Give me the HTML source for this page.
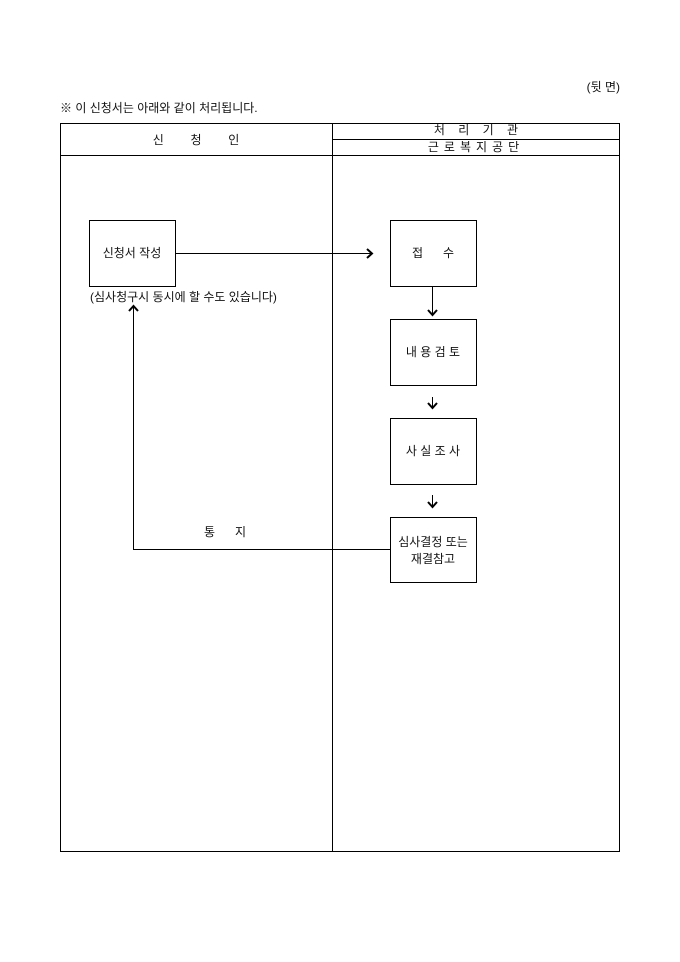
<!DOCTYPE html>
<html><head><meta charset="utf-8"><style>
body{margin:0;background:#fff;}
svg{display:block;}
text{font-family:"Liberation Sans","Noto Sans CJK KR",sans-serif;font-size:12px;fill:#111;}
</style></head><body>
<svg width="680" height="962" viewBox="0 0 680 962" xmlns="http://www.w3.org/2000/svg">
<text x="620" y="91" text-anchor="end">(뒷 면)</text>
<text x="60" y="112">※ 이 신청서는 아래와 같이 처리됩니다.</text>
<g fill="none" stroke="#000" stroke-width="1">
<rect x="60.5" y="123.5" width="559" height="728"/>
<line x1="60" y1="155.5" x2="620" y2="155.5"/>
<line x1="332.5" y1="123" x2="332.5" y2="852"/>
<line x1="332" y1="139.5" x2="620" y2="139.5"/>
<rect x="89.5" y="220.5" width="86" height="66"/>
<rect x="390.5" y="220.5" width="86" height="66"/>
<rect x="390.5" y="319.5" width="86" height="66"/>
<rect x="390.5" y="418.5" width="86" height="66"/>
<rect x="390.5" y="517.5" width="86" height="65"/>
<line x1="176" y1="253.5" x2="372" y2="253.5"/>
<line x1="432.5" y1="287" x2="432.5" y2="314"/>
<line x1="432.5" y1="397" x2="432.5" y2="407"/>
<line x1="432.5" y1="495" x2="432.5" y2="506"/>
<polyline points="390,549.5 133.5,549.5 133.5,307"/>
</g>
<g fill="none" stroke="#000" stroke-width="2" stroke-linejoin="miter">
<path d="M367 249 L372 253.5 L367 258"/>
<path d="M428 310 L432.5 315 L437 310"/>
<path d="M428 403 L432.5 408 L437 403"/>
<path d="M428 502 L432.5 507 L437 502"/>
<path d="M129 311 L133.5 306 L138 311"/>
</g>
<text x="196" y="144" text-anchor="middle" xml:space="preserve">신        청        인</text>
<text x="476" y="134" text-anchor="middle" xml:space="preserve">처    리    기    관</text>
<text x="476" y="151" text-anchor="middle" xml:space="preserve" letter-spacing="5">근로복지공단</text>
<text x="132" y="257" text-anchor="middle">신청서 작성</text>
<text x="90" y="301">(심사청구시 동시에 할 수도 있습니다)</text>
<text x="433" y="257" text-anchor="middle" xml:space="preserve">접      수</text>
<text x="433" y="356" text-anchor="middle" xml:space="preserve">내 용 검 토</text>
<text x="433" y="455" text-anchor="middle" xml:space="preserve">사 실 조 사</text>
<text x="433" y="546" text-anchor="middle">심사결정 또는</text>
<text x="433" y="563" text-anchor="middle">재결참고</text>
<text x="225" y="536" text-anchor="middle" xml:space="preserve">통      지</text>
</svg>
</body></html>
